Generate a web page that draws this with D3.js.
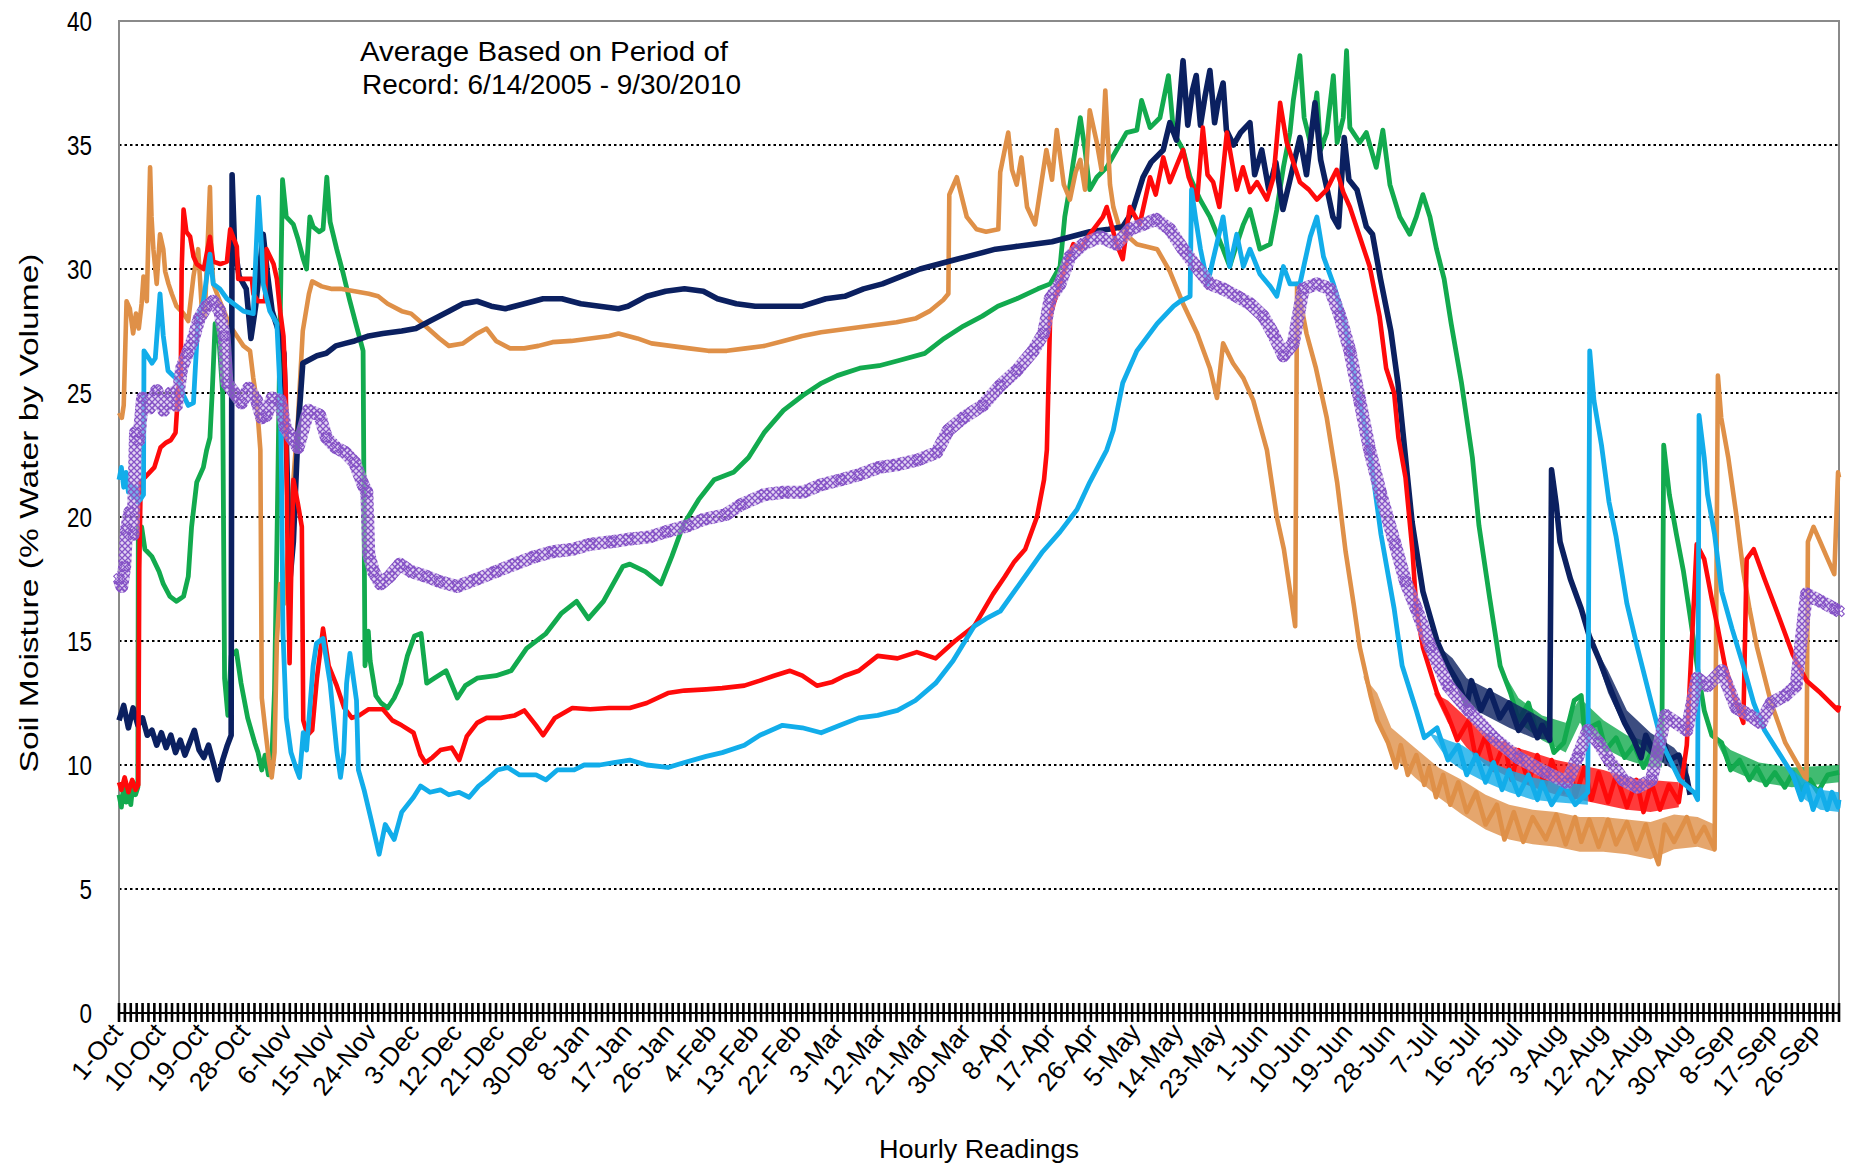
<!DOCTYPE html>
<html>
<head>
<meta charset="utf-8">
<script src="https://cdn.jsdelivr.net/npm/d3@7/dist/d3.min.js"></script>
<style>
    body { margin: 0; background: #fff; }
    #chart-area { width: 1851px; height: 1168px; }
    svg text { font-family: Arial, "Liberation Sans", sans-serif; fill: #000; }
</style>
</head>
<body>
<div id="chart-area"></div>
<script>
// x labels every 9 days (216 hourly readings)
const tickLabels = ["1-Oct","10-Oct","19-Oct","28-Oct","6-Nov","15-Nov","24-Nov","3-Dec","12-Dec","21-Dec","30-Dec",
    "8-Jan","17-Jan","26-Jan","4-Feb","13-Feb","22-Feb","3-Mar","12-Mar","21-Mar","30-Mar","8-Apr","17-Apr","26-Apr",
    "5-May","14-May","23-May","1-Jun","10-Jun","19-Jun","28-Jun","7-Jul","16-Jul","25-Jul","3-Aug","12-Aug","21-Aug",
    "30-Aug","8-Sep","17-Sep","26-Sep"];
const yTicks = [0, 5, 10, 15, 20, 25, 30, 35, 40];
const noteLines = ["Average Based on Period of", "Record: 6/14/2005 - 9/30/2010"];

// [day since 1-Oct, % water by volume]
const navy = [[0,11.8],[1,12.4],[2,11.5],[3,12.3],[4,11.6],[5,11.9],[6,11.2],[7,11.4],[8,10.8],[9,11.3],[10,10.7],[11,11.2],
    [12,10.5],[13,11.0],[14,10.4],[15,10.9],[16,11.4],[17,10.6],[18,10.3],[19,10.8],[20,10.1],[21,9.4],[22,10.2],[23,10.8],
    [23.8,11.2],[24,33.8],[24.5,31.0],[25.5,29.7],[27,29.2],[28,27.2],[29,28.5],[30.6,31.4],[31.5,29.8],[32.5,28.3],[34,27.4],
    [35,26.6],[36.3,17.5],[37,19],[38,23.5],[39,26.2],[40,26.3],[42,26.5],[44,26.6],[46,26.9],[48,27.0],[50,27.1],[53,27.3],
    [56,27.4],[60,27.5],[63,27.6],[66,27.9],[70,28.3],[73,28.6],[76,28.7],[79,28.5],[82,28.4],[86,28.6],[90,28.8],[94,28.8],
    [98,28.6],[102,28.5],[106,28.4],[108,28.5],[112,28.9],[116,29.1],[120,29.2],[124,29.1],[127,28.8],[131,28.6],[135,28.5],
    [140,28.5],[145,28.5],[150,28.8],[154,28.9],[158,29.2],[162,29.4],[166,29.7],[170,30.0],[174,30.2],[178,30.4],[182,30.6],
    [186,30.8],[190,30.9],[194,31.0],[198,31.1],[202,31.3],[206,31.5],[210,31.6],[213,31.7],[215,32.3],[217.3,33.7],[219,34.3],
    [221.6,34.8],[223,35.9],[224.4,35.2],[225.8,38.4],[226.8,35.8],[227.8,37.2],[228.6,37.8],[229.5,35.8],[230.5,37.0],
    [231.5,38.0],[232.5,35.9],[233.3,36.8],[234.3,37.5],[235,35.6],[236.5,35.0],[238,35.5],[240,35.9],[241,33.8],[242.5,34.8],
    [244,33.2],[245.5,34.3],[247,32.4],[248.5,33.6],[250.6,35.3],[252,33.8],[253.8,36.7],[255,34.4],[256.5,33.1],[257.6,32.1],
    [258.8,31.7],[260,35.3],[261,33.6],[262.7,33.2],[264.7,31.7],[266,31.4],[267.7,29.6],[269.9,27.5],[271.4,25.4],[272.9,22.6],
    [274.4,19.8],[276.7,17.0],[279.7,15.0],[282,14.0],[284.2,13.3],[286,12.4],[287,13.4],[289,12.2],[290.9,13.0],[293,11.9],
    [295,12.5],[297,11.4],[299.1,12.0],[301,11.1],[302,11.6],[303.6,11.0],[304,21.9],[305,20.5],[305.8,19.0],[308,17.5],
    [310.3,16.3],[312,15.2],[314,14.3],[316,13.3],[317.7,12.5],[319.5,11.7],[321.5,11.0],[323,10.3],[324,11.2],[326,10.4],
    [327.5,11.1],[328.9,10.2],[331,10.4],[332.7,9.5],[333.4,8.8]];

const orange = [[0,24.2],[0.6,24.0],[1.0,24.5],[1.6,28.7],[2.3,28.4],[3.0,27.4],[3.6,28.2],[4.2,27.6],[4.8,28.6],[5.2,29.7],
    [5.9,28.7],[6.6,34.1],[6.9,32.1],[7.3,30.8],[8.0,29.4],[8.7,31.4],[9.4,30.8],[9.8,29.9],[10.5,29.4],[11.2,29.0],[12.2,28.5],
    [13.7,28.2],[14.7,27.9],[15.8,29.7],[16.8,30.8],[17.5,28.6],[18.2,28.1],[19.3,33.3],[19.6,30.8],[20.0,29.4],[21.4,28.7],
    [23.6,27.7],[25.0,27.3],[26.4,26.9],[27.8,26.7],[28.5,25.6],[29.2,24.7],[30.0,22.7],[30.3,12.7],[31,11.5],[31.8,10.2],
    [32.4,9.5],[33,10.5],[33.5,15],[34.2,17.3],[35,16.5],[36,19],[37,21.5],[38,24],[39,27.5],[40.3,29.0],[41,29.5],[43,29.3],
    [45,29.2],[47,29.2],[50,29.1],[53,29.0],[55,28.9],[57,28.6],[60,28.3],[62,28.2],[65,27.7],[68,27.2],[70,26.9],[73,27.0],
    [76,27.4],[78,27.6],[80,27.1],[83,26.8],[86,26.8],[89,26.9],[92,27.05],[96,27.1],[100,27.2],[104,27.3],[106,27.4],[110,27.2],
    [113,27.0],[117,26.9],[121,26.8],[125,26.7],[129,26.7],[133,26.8],[137,26.9],[141,27.1],[145,27.3],[149,27.45],[153,27.55],
    [157,27.65],[161,27.75],[165,27.85],[169,28.0],[172,28.3],[174.9,28.75],[176,29.0],[176.2,33.0],[177.8,33.7],[179.9,32.1],
    [182,31.6],[184,31.5],[186.6,31.6],[187,33.9],[188.7,35.5],[189.5,34.0],[190.5,33.4],[191.5,34.5],[192.7,32.5],[194.4,31.8],
    [196.8,34.8],[198,33.6],[199,35.6],[200.5,33.4],[201.8,32.8],[203,33.9],[204,34.4],[205,33.2],[206,36.4],[207.5,35.1],
    [208.5,34.0],[209.3,37.2],[210.3,33.4],[211,32.5],[212.4,31.6],[216,31.0],[220.3,30.8],[223,29.9],[225.8,28.6],[228.8,27.4],
    [231.5,26.0],[233,24.8],[234.3,27.0],[236.4,26.2],[238.6,25.6],[240.7,24.7],[242,23.8],[243.6,22.7],[245.7,20.0],
    [247.2,18.7],[249.6,15.6],[250,29.4],[252,27.4],[254,26.0],[256.3,24.0],[258.5,21.4],[260.3,18.6],[262,16.5],[263.3,14.75],
    [265.6,12.8],[267,11.8],[269.3,10.9],[271,9.9],[272,10.8],[273.5,9.6],[275.3,10.4],[277,9.2],[278,9.9],[279.5,8.7],[281,9.6],
    [282.5,8.4],[284.2,9.3],[286,8.1],[288,8.9],[290,7.6],[292.4,8.4],[294,7.0],[296,8.1],[298,6.9],[300,7.9],[302.8,7.0],
    [305,8.0],[307,6.8],[309,7.9],[310.3,6.9],[312,7.8],[314,6.7],[316,7.8],[317.7,6.8],[320,7.7],[322,6.6],[324,7.6],
    [325.2,6.8],[326.7,6.0],[328,7.6],[330,6.9],[332.7,7.9],[334.5,6.9],[336.4,7.5],[338.6,6.6],[339.3,25.7],[340,24.0],
    [341.5,22.4],[343.2,20.1],[344.7,17.8],[346,16.3],[347.6,14.75],[350.6,12.5],[353.6,10.9],[356.6,9.9],[358.1,9.4],
    [358.4,19.0],[359.6,19.6],[361,19.0],[362.6,18.3],[364,17.7],[364.8,21.8],[365,21.6]];

const red = [[0,9.3],[0.5,9.0],[1.2,9.5],[2,8.9],[2.8,9.4],[3.5,9.0],[4.1,9.2],[4.3,17.9],[4.6,21.4],[5.5,21.6],[6.5,21.8],
    [7.5,22.0],[8.8,22.8],[10,23.0],[11,23.1],[12,23.4],[12.6,25.2],[13.1,25.5],[13.3,30],[13.7,32.4],[14.3,31.5],[15.1,31.3],
    [15.8,30.5],[16.5,30.2],[18,30.0],[19.3,31.3],[20,30.3],[21.5,30.2],[22.9,30.3],[23.6,31.6],[25,30.9],[25.3,29.6],[27,29.6],
    [28.2,29.6],[28.5,29.0],[29.5,28.7],[31,28.7],[31.3,30.8],[32.8,30.2],[33.5,29.6],[34.2,28.3],[34.9,27.3],[35.4,25],[35.8,18],
    [36.2,14.1],[36.5,17.3],[37,21.5],[38,20.5],[38.8,19.6],[39.1,11.8],[40,11.2],[41,11.4],[42,13.5],[43.3,15.5],[44.5,14.0],
    [46.2,13.2],[47.8,12.3],[49.4,11.9],[51,12.0],[53,12.25],[56,12.25],[58,11.8],[60,11.6],[62.5,11.3],[64,10.4],[65,10.1],
    [66.5,10.3],[68.2,10.6],[70.6,10.7],[72.2,10.2],[73.8,11.15],[76,11.7],[78,11.9],[81,11.9],[84,12.0],[86,12.2],[88.5,11.6],
    [90,11.2],[92.5,11.9],[96.2,12.3],[100,12.25],[104,12.3],[108.4,12.3],[112,12.5],[116.5,12.9],[120,13.0],[124.6,13.05],
    [128,13.1],[132.7,13.2],[136,13.4],[139,13.6],[142.4,13.8],[145,13.6],[148.1,13.2],[151.4,13.35],[154,13.6],[157,13.8],
    [161,14.4],[165.2,14.3],[169.3,14.55],[173.3,14.3],[177.4,15.0],[181.5,15.6],[185.5,16.9],[188,17.6],[190,18.2],[192.3,18.7],
    [194.8,20.0],[196.3,21.5],[196.9,22.7],[197.6,28.1],[198.5,28.7],[199.7,29.4],[201,30.2],[202.5,31.0],[204,30.8],[206,31.4],
    [208.8,32.1],[209.6,32.5],[211.7,31.0],[213,30.4],[214.5,32.5],[216.6,31.8],[218.8,33.7],[220,33.0],[221.6,34.5],[223,33.5],
    [225.8,34.8],[227,33.7],[228.8,32.8],[230,35.7],[231,33.8],[232.2,33.5],[233.5,32.5],[235.1,35.5],[237.2,33.2],[238.5,34.1],
    [240,33.1],[241.5,33.5],[243.6,32.8],[245,33.7],[246.4,36.7],[247.8,35.1],[249.2,34.3],[250.6,33.5],[252.5,33.2],[254.2,32.8],
    [256.3,33.2],[258.4,34.0],[259.8,33.1],[261.2,32.5],[263.3,31.3],[265.4,30.1],[267.5,28.1],[268.9,26.0],[270.6,25.0],
    [271.5,23.2],[273,21.6],[274.5,18.6],[275.3,16.3],[276.7,14.75],[279.7,12.9],[282,12.0],[284,11.0],[286.4,11.8],[288,10.2],
    [290,11.2],[291.7,9.8],[294,10.9],[295.5,9.4],[297,10.6],[299.1,9.3],[301,10.4],[302.5,9.1],[304,10.2],[306.6,8.9],
    [308,10.0],[309,8.7],[311,9.9],[312.5,8.6],[314,9.7],[316,8.5],[317.7,9.6],[320,8.3],[322,9.4],[323.5,8.1],[325.2,9.3],
    [327,8.2],[328.9,9.2],[331,8.5],[332.7,10.8],[334.8,18.9],[336.4,18.3],[338,16.7],[339.3,15.5],[340.8,14.0],[343.2,12.5],
    [344.7,11.7],[345.4,18.3],[346.9,18.7],[349.2,17.5],[352.2,16.0],[355.2,14.45],[358.1,13.4],[361.1,12.9],[364.8,12.2],
    [365,12.4]];

const blue = [[0,21.5],[0.5,22.0],[1,21.2],[1.5,21.8],[2,21.0],[2.5,21.3],[3,20.8],[3.5,21.2],[4,20.6],[4.5,20.7],[5.2,20.9],
    [5.3,26.7],[6,26.5],[7,26.2],[7.7,26.4],[8.7,29.0],[9.4,27.3],[10.4,25.9],[12,25.6],[13,25.4],[13.7,24.9],[14.7,24.5],
    [15.8,24.6],[16.8,28.1],[17.9,28.7],[19.3,30.6],[20,29.4],[21.4,29.2],[22.9,28.8],[25,28.5],[26.4,28.3],[28.5,28.2],
    [29.6,32.9],[30.3,30.8],[30.6,29.4],[32,28.3],[33.5,27.8],[34.2,25],[34.5,21.5],[34.8,15.3],[35.5,11.9],[36.5,10.5],
    [37.7,9.8],[38.3,9.5],[39.1,11.3],[39.8,10.6],[41.2,14.0],[41.9,14.9],[43.3,15.1],[44.8,13.3],[46.2,10.6],[47,9.5],
    [47.7,10.5],[48.3,13.3],[49,14.5],[50.4,12.6],[50.8,9.8],[52,9.0],[53.5,7.8],[55.2,6.4],[56.5,7.6],[58.4,7.0],[60,8.1],
    [62.5,8.7],[64,9.15],[66,8.9],[68.2,9.0],[70,8.8],[72.2,8.9],[74.3,8.7],[76.3,9.15],[78,9.4],[80.3,9.8],[82.5,9.9],[85,9.6],
    [88.5,9.6],[90.6,9.4],[93,9.8],[96.6,9.8],[98.7,10.0],[102,10.0],[105,10.1],[108.4,10.2],[112,10.0],[116.5,9.9],[120,10.1],
    [124.6,10.35],[128,10.5],[132.7,10.8],[136,11.2],[140.8,11.6],[145,11.5],[149,11.3],[153,11.6],[157,11.9],[161,12.0],
    [165.2,12.2],[169,12.6],[173.3,13.3],[177,14.2],[181.5,15.6],[184,15.9],[187,16.2],[190,17.0],[193,17.8],[196,18.6],
    [199.7,19.4],[203.3,20.3],[206,21.4],[209.6,22.7],[211,23.5],[213,25.4],[216,26.7],[220.3,27.8],[223.8,28.5],[225.2,28.7],
    [227.3,28.9],[227.6,33.2],[228.5,32],[229.5,30.8],[231,29.4],[232.2,30.4],[234.3,32.1],[235.7,30.1],[237.2,31.4],[238.6,30.1],
    [240,30.8],[242.1,29.8],[244.3,29.3],[245.7,28.9],[247.1,30.1],[248.5,29.4],[250.6,29.4],[252.8,31.3],[254.2,32.1],
    [255.6,30.5],[257.7,29.4],[259.8,28.1],[261.9,26.0],[264,24.0],[265.6,22.4],[267.8,19.3],[270.6,16.3],[272.3,14.0],
    [275.3,12.2],[277,11.1],[279.7,11.5],[282,10.2],[284.2,10.8],[286,9.6],[288,10.4],[290,9.3],[291.7,10.1],[293.5,9.0],
    [295,9.8],[297,8.8],[299.1,9.6],[301,8.6],[302,9.3],[304,8.4],[306.6,9.2],[309,8.4],[311.7,8.9],[312.1,26.7],[313,24.7],
    [314.6,22.9],[316.2,20.6],[317.7,19.2],[320,16.5],[322.2,14.75],[325.2,12.5],[327.4,10.9],[331.2,9.4],[334.2,8.9],[335,8.6],
    [335.3,24.1],[336.4,22.4],[337.1,20.9],[338.6,19.3],[340.1,17.0],[342.3,15.5],[344.7,14.0],[346.9,12.5],[349.2,11.4],
    [352.2,10.5],[355.2,9.6],[357,8.6],[358.1,9.2],[359.5,8.2],[361.1,9.0],[362.5,8.2],[363.5,8.9],[364.8,8.3],[365,8.6]];

const green = [[0,8.8],[0.5,8.3],[1,9.2],[1.5,8.5],[2,9.0],[2.5,8.4],[3,9.3],[3.5,8.8],[4,9.1],[4.1,19.6],[4.8,19.6],[5.5,18.7],
    [7,18.4],[8.5,17.8],[9.4,17.3],[10.8,16.8],[12.2,16.6],[13.7,16.8],[14.7,17.6],[15.4,19.6],[16.5,21.4],[17.9,22.0],
    [18.6,22.7],[19.3,23.2],[19.8,25.1],[20.4,27.8],[21.2,27.2],[22,25],[22.4,13.5],[23.1,12.0],[23.8,14.4],[24.9,14.6],
    [25.9,13.3],[27.3,11.9],[28.8,10.9],[29.5,10.5],[30.3,9.8],[31,10.4],[31.7,9.6],[32.4,10.1],[33,13],[33.6,20],[34.2,28],
    [34.7,33.6],[35.5,32.1],[37,31.8],[38,31.2],[39.1,30.4],[39.8,30.0],[40.5,32.1],[41.2,31.7],[42.5,31.5],[43.3,31.6],
    [44.1,33.7],[44.8,31.9],[46.2,30.8],[47.6,29.8],[49,28.7],[50.4,27.7],[51.8,26.7],[52.2,14.0],[52.9,15.4],[53.3,14.2],
    [54.5,12.8],[55.6,12.5],[57,12.3],[58.4,12.7],[59.8,13.3],[61.2,14.4],[62.7,15.2],[64.1,15.3],[65.3,13.3],[66.9,13.5],
    [69.4,13.8],[71.8,12.7],[73.5,13.2],[76,13.5],[80,13.6],[83.2,13.8],[86.5,14.7],[90.6,15.3],[93.8,16.1],[97.1,16.6],
    [99.6,15.9],[102.8,16.6],[106.9,18.0],[108.4,18.1],[111.7,17.8],[115,17.3],[117.3,18.4],[119.8,19.7],[123,20.7],[126.3,21.5],
    [130.4,21.8],[133.6,22.4],[136.9,23.4],[141,24.3],[145.1,24.9],[149.1,25.4],[152.4,25.7],[157.2,26.0],[161.3,26.1],
    [165.3,26.3],[171,26.6],[175.1,27.2],[179.2,27.7],[183.2,28.1],[186.5,28.5],[190.5,28.8],[195,29.2],[197.6,29.4],[199.7,30.1],
    [200.7,32.1],[201.5,33.0],[202.5,34.3],[204,36.1],[205,34.8],[206,33.2],[207.5,33.7],[209.6,34.1],[211.7,34.8],[213.8,35.5],
    [216,35.6],[217,36.8],[218.8,35.7],[220.9,36.1],[222.7,37.8],[223.8,35.5],[225.8,34.8],[227.3,33.7],[229.4,32.8],[231.5,32.1],
    [233,31.4],[234.3,30.8],[235.7,30.1],[237.2,31.0],[238.6,31.8],[240,32.4],[242.1,30.8],[244.3,31.0],[245.7,32.4],[247.1,34.1],
    [248.5,35.5],[249.2,36.8],[250.6,38.6],[251.5,36.1],[252.8,35.1],[254.2,37.1],[255,34.8],[256.3,35.5],[257.7,37.8],
    [258.5,35.1],[259.8,36.1],[260.5,38.8],[261.2,35.7],[263.3,35.1],[264.7,35.5],[266.8,34.1],[268.2,35.6],[269.7,33.4],
    [271.8,32.1],[273.9,31.4],[275.3,32.1],[276.7,33.0],[278.2,32.1],[279.6,30.8],[281.2,29.6],[282.7,27.8],[284.9,25.4],
    [287.2,22.4],[288.6,19.65],[290.9,16.7],[293.1,14.0],[295.3,12.9],[297,11.8],[299.1,12.5],[301,11.2],[302.8,11.7],
    [304.5,10.5],[306.6,10.9],[308.8,12.6],[310.3,12.8],[311,11.4],[314,11.7],[315.5,10.6],[317.7,11.1],[319.5,10.3],
    [321.5,10.8],[323.5,9.9],[325.2,10.5],[327.4,10.2],[327.8,22.9],[329,20.9],[330.5,19.3],[332,17.8],[333.4,16.0],[334.9,14.0],
    [336.4,12.2],[338,11.2],[340.1,10.9],[342,9.8],[343.9,10.2],[346,9.4],[347.6,9.9],[349.5,9.2],[351.4,9.7],[353.5,9.1],
    [355.2,9.7],[357,9.0],[358.9,9.4],[360.5,8.9],[362.6,9.6],[365,9.7]];

const purple = [[0,17.5],[0.6,17.2],[1.2,18.0],[1.6,19.5],[2.3,20.2],[3.0,19.3],[3.5,23.4],[4.2,23.1],[5,24.8],[6.5,24.4],
    [8,25.1],[9.5,24.3],[11,25.0],[12.2,24.5],[13.3,26.0],[14.5,26.6],[15.8,27.2],[17,28.0],[18.6,28.5],[20,28.7],[21.4,28.3],
    [22.3,27.3],[22.9,25.4],[24.5,25.0],[26,24.6],[27.5,25.2],[29.2,24.7],[30.3,24.0],[31.3,24.1],[32.5,24.8],[34.2,24.7],
    [35.3,23.6],[36.6,23.2],[38,22.8],[40.2,24.3],[42.6,24.1],[44,23.2],[46,22.8],[48,22.6],[50,22.2],[51.8,21.3],[52.6,21.0],
    [53,18.5],[54,17.8],[55.5,17.3],[57.4,17.6],[59.6,18.1],[62,17.8],[65.3,17.6],[68,17.4],[71.8,17.2],[76,17.5],[80,17.8],
    [84,18.1],[88.2,18.4],[92,18.6],[96.3,18.7],[100,18.9],[104.5,19.0],[108,19.1],[112.6,19.2],[116,19.4],[120.7,19.65],
    [124,19.9],[128.8,20.1],[132,20.5],[136.9,20.9],[141,21.0],[145.1,21.0],[149,21.3],[153.2,21.5],[157,21.7],[161.3,22.0],
    [165,22.1],[169.5,22.3],[173.5,22.6],[176,23.5],[179.2,24.0],[183.3,24.5],[187,25.3],[190.5,25.9],[194,26.7],[196.2,27.4],
    [197.6,28.8],[199.7,29.4],[201.8,30.5],[204.6,31.0],[208.2,31.3],[211.7,31.0],[214.5,31.6],[217.3,31.8],[220.1,32.0],
    [223,31.6],[225.8,30.8],[228.6,30.1],[231.5,29.4],[234.3,29.2],[237.2,28.9],[240,28.6],[242.8,28.1],[244.9,27.4],[247.1,26.5],
    [249.2,27.0],[251.3,29.2],[254.2,29.4],[257,29.2],[259.1,28.1],[261.2,26.7],[263.3,24.7],[265.4,22.7],[267.8,20.9],
    [270.8,18.9],[273,17.4],[275.3,16.3],[278.3,14.75],[282,13.2],[286.4,12.2],[291.7,11.1],[296.9,10.3],[302.8,9.7],[307.3,9.3],
    [309.5,10.3],[311.7,11.4],[314,10.9],[316.2,10.2],[319.2,9.4],[322.2,9.1],[325.2,9.4],[328.2,12.0],[330.5,11.7],[332.7,11.4],
    [334.9,13.5],[337.1,13.2],[340.1,13.8],[343.2,12.3],[346.1,12.0],[348.4,11.7],[350.6,12.5],[353.6,12.8],[355.9,13.2],
    [358.1,16.9],[361.1,16.6],[364.1,16.3],[365,16.2]];

// spread of the hourly noise in the late-summer recession: [day, low, high], null splits segments
const orangeSpread = [[264,13.6,13.6],[267,11.9,12.9],[270,10.4,11.5],[275,9.5,10.7],[280,8.7,9.9],[285,8.0,9.4],[290,7.4,8.8],
    [295,7.0,8.4],[300,6.8,8.2],[305,6.7,8.1],[310,6.5,7.9],[315,6.5,7.9],[320,6.4,7.8],[325,6.2,7.7],[330,6.6,8.0],
    [335,6.7,7.9],[338.6,6.5,7.6]];
const redSpread = [[279,12.9,12.9],[282,11.7,12.6],[286,10.7,11.9],[290,10.0,11.3],[295,9.5,10.8],[300,9.1,10.5],[305,8.8,10.2],
    [310,8.6,10.0],[315,8.4,9.8],[320,8.2,9.5],[325,8.1,9.4],[331,8.3,9.3]];
const navySpread = [[280,14.8,14.8],[283,13.4,14.3],[286,12.4,13.5],[290,12.0,13.1],[295,11.5,12.6],[300,11.1,12.1],
    [303.5,11.0,11.7], null, [312,15.2,15.2],[316,12.9,13.8],[320,11.3,12.2],[325,10.4,11.3],[330,9.8,10.7],[333,9.3,10.0]];
const greenSpread = [[293,14.0,14.0],[297,11.7,12.7],[302,11.0,12.0],[307,10.5,11.7],[310,11.7,12.7],[315,10.7,11.8],
    [320,10.2,11.2],[325,9.9,10.9],[327.4,9.9,10.6], null, [338,11.3,11.3],[342,9.8,10.6],[348,9.3,10.1],[355,9.1,9.9],
    [365,9.3,10.0]];
const blueSpread = [[278,11.3,11.3],[282,10.2,11.0],[285,9.8,10.8],[290,9.3,10.2],[295,8.9,9.8],[300,8.6,9.5],[305,8.5,9.3],
    [311.7,8.4,9.2], null, [353,10.2,10.2],[357,8.7,9.5],[361,8.2,9.0],[365,8.1,8.9]];

const seriesList = [
    { name: "green", values: green, spread: greenSpread, color: "#12AA4E", width: 4.8 },
    { name: "orange", values: orange, spread: orangeSpread, color: "#DF9048", width: 4.6 },
    { name: "navy", values: navy, spread: navySpread, color: "#0B2060", width: 5.6 },
    { name: "red", values: red, spread: redSpread, color: "#FF0A0A", width: 4.6 },
    { name: "blue", values: blue, spread: blueSpread, color: "#12ADEA", width: 4.8 }
];

class SoilMoistureChart {
    constructor(parentElement) {
        this.parentElement = parentElement;
        this.initVis();
    }

    initVis() {
        let vis = this;

        vis.margin = { top: 21, right: 12, bottom: 155, left: 119 };
        vis.fullWidth = 1851;
        vis.fullHeight = 1168;
        vis.width = vis.fullWidth - vis.margin.left - vis.margin.right;
        vis.height = vis.fullHeight - vis.margin.top - vis.margin.bottom;

        vis.svg = d3.select("#" + vis.parentElement)
            .append("svg")
            .attr("width", vis.fullWidth)
            .attr("height", vis.fullHeight);

        // hatch used for the purple "x" marker band
        let pat = vis.svg.append("defs")
            .append("pattern")
            .attr("id", "xhatch")
            .attr("width", 6)
            .attr("height", 6)
            .attr("patternUnits", "userSpaceOnUse");
        pat.append("rect")
            .attr("width", 6)
            .attr("height", 6)
            .attr("fill", "#c9b3e6")
            .attr("fill-opacity", 0.55);
        pat.append("path")
            .attr("d", "M0,0L6,6M6,0L0,6")
            .attr("stroke", "#8552c6")
            .attr("stroke-width", 1.3);

        vis.g = vis.svg.append("g")
            .attr("transform", `translate(${vis.margin.left}, ${vis.margin.top})`);

        vis.x = d3.scaleLinear().domain([0, 365]).range([0, vis.width]);
        vis.y = d3.scaleLinear().domain([0, 40]).range([vis.height, 0]);

        vis.updateVis();
    }

    updateVis() {
        let vis = this;

        // dotted gridlines
        vis.g.selectAll(".grid")
            .data(yTicks.filter(d => d > 0 && d < 40))
            .enter()
            .append("line")
            .attr("class", "grid")
            .attr("x1", 0)
            .attr("x2", vis.width)
            .attr("y1", d => vis.y(d))
            .attr("y2", d => vis.y(d))
            .attr("stroke", "#000")
            .attr("stroke-width", 2)
            .attr("stroke-dasharray", "2.5,3");

        // frame
        vis.g.append("rect")
            .attr("x", 0)
            .attr("y", 0)
            .attr("width", vis.width)
            .attr("height", vis.height)
            .attr("fill", "none")
            .attr("stroke", "#8a8a8a")
            .attr("stroke-width", 2);

        // y labels
        vis.g.selectAll(".ylab")
            .data(yTicks)
            .enter()
            .append("text")
            .attr("class", "ylab")
            .attr("x", -27)
            .attr("y", d => vis.y(d))
            .attr("dy", "0.36em")
            .attr("text-anchor", "end")
            .attr("font-size", 27)
            .attr("textLength", d => String(d).length * 12.5)
            .attr("lengthAdjust", "spacingAndGlyphs")
            .text(d => d);

        let line = d3.line()
            .x(d => vis.x(d[0]))
            .y(d => vis.y(d[1]));

        let spreadArea = d3.area()
            .defined(d => d !== null)
            .x(d => vis.x(d[0]))
            .y0(d => vis.y(d[1]))
            .y1(d => vis.y(d[2]));

        let groups = vis.g.selectAll(".series")
            .data(seriesList)
            .enter()
            .append("g")
            .attr("class", "series");

        groups.append("path")
            .attr("d", d => spreadArea(d.spread))
            .attr("fill", d => d.color)
            .attr("fill-opacity", 0.8)
            .attr("stroke", "none");

        groups.append("path")
            .attr("d", d => line(d.values))
            .attr("fill", "none")
            .attr("stroke", d => d.color)
            .attr("stroke-width", d => d.width)
            .attr("stroke-linejoin", "round");

        // purple series: band of x markers
        vis.g.append("path")
            .attr("d", line(purple))
            .attr("fill", "none")
            .attr("stroke", "url(#xhatch)")
            .attr("stroke-width", 13)
            .attr("stroke-linejoin", "round");

        vis.g.selectAll(".xmark")
            .data(purple)
            .enter()
            .append("path")
            .attr("class", "xmark")
            .attr("d", d3.symbol().type(d3.symbolCross).size(70))
            .attr("transform", d => `translate(${vis.x(d[0])}, ${vis.y(d[1])}) rotate(45)`)
            .attr("fill", "none")
            .attr("stroke", "#8552c6")
            .attr("stroke-width", 1.1);

        // x axis: dense tick marks every 30 readings
        let tickDays = d3.range(0, 365.01, 1.25);
        vis.g.append("line")
            .attr("x1", 0)
            .attr("x2", vis.width)
            .attr("y1", vis.height)
            .attr("y2", vis.height)
            .attr("stroke", "#000")
            .attr("stroke-width", 2);

        vis.g.selectAll(".xtick")
            .data(tickDays)
            .enter()
            .append("line")
            .attr("class", "xtick")
            .attr("x1", d => vis.x(d))
            .attr("x2", d => vis.x(d))
            .attr("y1", vis.height - 10)
            .attr("y2", vis.height + 9)
            .attr("stroke", "#000")
            .attr("stroke-width", 2.6);

        vis.g.selectAll(".xlab")
            .data(tickLabels)
            .enter()
            .append("text")
            .attr("class", "xlab")
            .attr("text-anchor", "end")
            .attr("font-size", 26)
            .attr("transform", (d, i) => `translate(${vis.x(i * 9) + 5}, ${vis.height + 20}) rotate(-50)`)
            .text(d => d);

        // note text
        vis.g.selectAll(".note")
            .data(noteLines)
            .enter()
            .append("text")
            .attr("class", "note")
            .attr("x", (d, i) => 241 + i * 2)
            .attr("y", (d, i) => 40 + i * 33)
            .attr("font-size", 27)
            .attr("textLength", (d, i) => i === 0 ? 368 : 379)
            .attr("lengthAdjust", "spacingAndGlyphs")
            .text(d => d);

        // axis titles
        vis.svg.append("text")
            .attr("transform", "translate(38, 513) rotate(-90)")
            .attr("text-anchor", "middle")
            .attr("font-size", 26)
            .attr("textLength", 519)
            .attr("lengthAdjust", "spacingAndGlyphs")
            .text("Soil Moisture (% Water by Volume)");

        vis.svg.append("text")
            .attr("x", vis.margin.left + vis.width / 2)
            .attr("y", 1158)
            .attr("text-anchor", "middle")
            .attr("font-size", 25)
            .attr("textLength", 200)
            .attr("lengthAdjust", "spacingAndGlyphs")
            .text("Hourly Readings");
    }
}

let chart = new SoilMoistureChart("chart-area");
</script>
</body>
</html>
